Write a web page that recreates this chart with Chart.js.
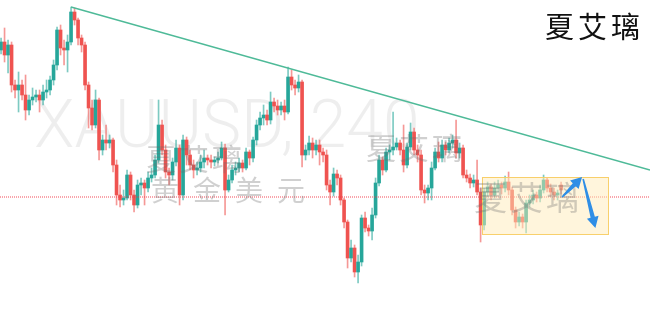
<!DOCTYPE html>
<html>
<head>
<meta charset="utf-8">
<script src="https://cdn.jsdelivr.net/npm/chart.js@4.4.0/dist/chart.umd.min.js"></script>
<style>
	html, body { margin: 0; padding: 0; background: #fff; }
	#wrap { position: relative; width: 650px; height: 309px; }
	#brand {
		position: absolute; right: 6px; top: 5px;
		font-family: "Noto Sans CJK SC", sans-serif; font-size: 29px;
		letter-spacing: 4px; color: #111; line-height: 40px;
	}
</style>
</head>
<body>
<div id="wrap">
	<canvas id="myChart"></canvas>
	<div id="brand">夏艾璃</div>
</div>
<script>
/* XAUUSD 240 K線資料 */
var opens = [
	2050,2058,2045,2055,2015,2010,2015,2005,1990,2000,
	2003,2005,2000,2008,2010,2020,2035,2070,2052,2050,
	2058,2088,2080,2062,2055,2015,1992,1975,2000,1950,
	1960,1957,1960,1935,1905,1900,1902,1925,1905,1895,
	1915,1917,1912,1922,1925,1940,1975,1950,1928,1925,
	1938,1952,1905,1960,1945,1935,1930,1932,1938,1942,
	1940,1938,1940,1942,1952,1910,1920,1930,1932,1937,
	1932,1948,1942,1960,1975,1982,1985,1980,1998,1994,
	1990,1994,1988,2023,2015,2012,2018,1945,1950,1957,
	1950,1955,1948,1945,1915,1908,1926,1922,1900,1878,
	1842,1852,1828,1838,1882,1872,1869,1885,1917,1940,
	1930,1948,1950,1953,1957,1950,1935,1953,1968,1950,
	1945,1910,1907,1912,1932,1948,1942,1955,1950,1957,
	1960,1947,1952,1925,1922,1917,1920,1908,1875,1908,
	1913,1905,1912,1915,1912,1918,1910,1890,1878,1883,
	1878,1897,1900,1905,1902,1910,1920,1912,1908,1905,1915
];
var highs = [
	2062,2072,2060,2058,2020,2028,2020,2025,2005,2012,
	2010,2010,2015,2020,2024,2040,2073,2075,2060,2065,
	2093,2092,2082,2065,2058,2018,2000,2010,2002,1965,
	1975,1965,1962,1940,1915,1910,1930,1928,1910,1920,
	1922,1920,1928,1932,1945,2000,1980,1955,1932,1942,
	1960,1955,1965,1963,1950,1940,1938,1945,1950,1945,
	1945,1943,1948,1958,1956,1925,1935,1938,1942,1940,
	1952,1950,1963,1980,1988,1995,1990,2008,2002,2000,
	1998,2000,2033,2030,2020,2025,2020,1955,1964,1962,
	1960,1960,1952,1950,1920,1932,1930,1925,1902,1880,
	1860,1855,1845,1885,1888,1875,1892,1922,1945,1943,
	1952,1955,1988,1962,1960,1975,1957,1977,1972,1955,
	1950,1915,1915,1938,1952,1958,1960,1958,1962,1965,
	1980,1957,1955,1930,1926,1925,1940,1912,1912,1918,
	1916,1918,1920,1918,1924,1928,1913,1893,1888,1886,
	1900,1905,1910,1908,1915,1925,1922,1916,1912,1910,1918
];
var lows = [
	2046,2038,2027,2008,2002,1988,2000,1980,1985,1995,
	1998,1988,1995,2002,2005,2015,2030,2045,2035,2028,
	2055,2075,2055,2048,2010,1972,1970,1972,1940,1945,
	1950,1952,1928,1895,1893,1895,1900,1900,1888,1892,
	1905,1895,1908,1918,1922,1937,1945,1922,1915,1920,
	1934,1895,1900,1935,1930,1922,1925,1928,1932,1935,
	1932,1934,1937,1940,1885,1908,1917,1925,1928,1928,
	1930,1935,1938,1955,1970,1975,1975,1976,1988,1985,
	1985,1980,1986,2010,2005,2008,1933,1940,1945,1942,
	1945,1935,1938,1910,1895,1904,1915,1895,1872,1832,
	1838,1823,1817,1834,1868,1864,1860,1882,1914,1925,
	1928,1940,1945,1950,1945,1928,1932,1950,1945,1938,
	1905,1897,1900,1900,1930,1938,1938,1945,1947,1952,
	1942,1942,1922,1918,1912,1913,1905,1858,1870,1903,
	1900,1902,1908,1906,1908,1905,1885,1872,1874,1872,
	1867,1893,1896,1898,1898,1907,1908,1904,1900,1900,1906
];
var closes = [
	2058,2045,2055,2015,2010,2015,2005,1990,2000,2003,
	2005,2000,2008,2010,2020,2035,2070,2052,2050,2058,
	2088,2080,2062,2055,2015,1992,1975,2000,1950,1960,
	1957,1960,1935,1905,1900,1902,1925,1905,1895,1915,
	1917,1912,1922,1925,1940,1975,1950,1928,1925,1938,
	1952,1905,1960,1945,1935,1930,1932,1938,1942,1940,
	1938,1940,1942,1952,1910,1920,1930,1932,1937,1932,
	1948,1942,1960,1975,1982,1985,1980,1998,1994,1990,
	1994,1988,2023,2015,2012,2018,1945,1950,1957,1950,
	1955,1948,1945,1915,1908,1926,1922,1900,1878,1842,
	1852,1828,1838,1882,1872,1869,1885,1917,1940,1930,
	1948,1950,1953,1957,1950,1935,1953,1968,1950,1945,
	1910,1907,1912,1932,1948,1942,1955,1950,1957,1960,
	1947,1952,1925,1922,1917,1920,1908,1875,1908,1913,
	1905,1912,1915,1912,1918,1910,1890,1878,1883,1878,
	1897,1900,1905,1902,1910,1920,1912,1908,1905,1907,1910
];

// 壓力趨勢線 / 水平線 / 區間框 / 箭頭
var trendX = [20, 185.4];
var trendY = [2093, 1930];
var levelX = [-0.3, 185.4];
var levelY = [1903, 1903];
var boxX = [137.4, 173.4];
var boxY = [1866, 1923];
var arrowUpX = [160.3, 166.0];
var arrowUpY = [1903, 1923];
var arrowDownX = [166.3, 169.8];
var arrowDownY = [1921, 1872];

var upColor = 'rgb(38, 166, 154)';
var downColor = 'rgb(239, 83, 80)';
var upWick = 'rgba(38, 166, 154, 0.6)';
var downWick = 'rgba(239, 83, 80, 0.6)';

function isUp(i) {
	return closes[i] >= opens[i];
}

var bodyData = [];
var wickData = [];
for (var i = 0; i < opens.length; i++) {
	bodyData.push({ x: i, y: [opens[i], closes[i]] });
	wickData.push({ x: i, y: [lows[i], highs[i]] });
}

function toPts(xs, ys) {
	var pts = [];
	for (var k = 0; k < xs.length; k++) {
		pts.push({ x: xs[k], y: ys[k] });
	}
	return pts;
}

// 畫箭頭 (漸粗的箭身 + 三角箭頭)
function drawArrow(ctx, x1, y1, x2, y2) {
	var ang = Math.atan2(y2 - y1, x2 - x1);
	var len = Math.hypot(x2 - x1, y2 - y1);
	var headLen = 11, headW = 6;
	ctx.save();
	ctx.translate(x1, y1);
	ctx.rotate(ang);
	ctx.fillStyle = '#2f8ee6';
	ctx.beginPath();
	ctx.moveTo(0, -0.8);
	ctx.lineTo(len - headLen, -2.2);
	ctx.lineTo(len - headLen, -headW);
	ctx.lineTo(len, 0);
	ctx.lineTo(len - headLen, headW);
	ctx.lineTo(len - headLen, 2.2);
	ctx.lineTo(0, 0.8);
	ctx.closePath();
	ctx.fill();
	ctx.restore();
}

var bgWatermark = {
	id: 'bgWatermark',
	beforeDatasetsDraw: function(chart) {
		var ctx = chart.ctx;
		var a = chart.chartArea;
		ctx.save();
		ctx.fillStyle = 'rgba(0, 0, 0, 0.065)';
		ctx.font = '300 66px Roboto';
		ctx.textBaseline = 'alphabetic';
		ctx.fillText('XAUUSD, 240', a.left + 34, a.top + 147);
		ctx.restore();
	}
};

var overlay = {
	id: 'overlay',
	afterDatasetsDraw: function(chart) {
		var ctx = chart.ctx;
		var xs = chart.scales.x;
		var ys = chart.scales.y;
		var a = chart.chartArea;
		ctx.save();

		// 區間框
		var bx1 = xs.getPixelForValue(boxX[0]);
		var bx2 = xs.getPixelForValue(boxX[1]);
		var by1 = ys.getPixelForValue(boxY[1]);
		var by2 = ys.getPixelForValue(boxY[0]);
		ctx.fillStyle = 'rgba(255, 236, 185, 0.5)';
		ctx.fillRect(bx1, by1, bx2 - bx1, by2 - by1);
		ctx.strokeStyle = 'rgba(248, 205, 100, 0.95)';
		ctx.lineWidth = 1;
		ctx.strokeRect(bx1 + 0.5, by1 + 0.5, bx2 - bx1, by2 - by1);

		// 浮水印文字
		ctx.fillStyle = 'rgba(110, 110, 110, 0.32)';
		ctx.textBaseline = 'top';
		ctx.font = '30px "Noto Sans CJK SC"';
		ctx.letterSpacing = '3px';
		ctx.fillText('夏艾璃', a.left + 146, a.top + 144);
		ctx.fillText('夏艾璃', a.left + 366, a.top + 133);
		ctx.font = '33px "Noto Sans CJK SC"';
		ctx.fillText('夏艾璃', a.left + 474, a.top + 181);
		ctx.font = '28px "Noto Sans CJK SC"';
		ctx.letterSpacing = '14px';
		ctx.fillText('黄金美元', a.left + 151, a.top + 176);
		ctx.letterSpacing = '0px';

		// 箭頭
		drawArrow(ctx,
			xs.getPixelForValue(arrowUpX[0]), ys.getPixelForValue(arrowUpY[0]),
			xs.getPixelForValue(arrowUpX[1]), ys.getPixelForValue(arrowUpY[1]));
		drawArrow(ctx,
			xs.getPixelForValue(arrowDownX[0]), ys.getPixelForValue(arrowDownY[0]),
			xs.getPixelForValue(arrowDownX[1]), ys.getPixelForValue(arrowDownY[1]));
		ctx.restore();
	}
};

var ctx = document.getElementById('myChart');
var myChart = new Chart(ctx, {
	type: 'bar',
	data: {
		datasets: [{
			type: 'line',
			label: 'trend',
			data: toPts(trendX, trendY),
			borderColor: 'rgb(78, 186, 152)',
			borderWidth: 1.4,
			pointRadius: 0,
			order: 0
		}, {
			type: 'line',
			label: 'level',
			data: toPts(levelX, levelY),
			borderColor: 'rgba(242, 54, 69, 0.9)',
			borderWidth: 1,
			borderDash: [1, 1],
			pointRadius: 0,
			order: 0
		}, {
			label: 'body',
			data: bodyData,
			backgroundColor: function(c) { return isUp(c.dataIndex) ? upColor : downColor; },
			barThickness: 3,
			minBarLength: 1,
			grouped: false,
			order: 1
		}, {
			label: 'wick',
			data: wickData,
			backgroundColor: function(c) { return isUp(c.dataIndex) ? upWick : downWick; },
			barThickness: 1,
			grouped: false,
			order: 2
		}]
	},
	options: {
		responsive: true,
		maintainAspectRatio: false,
		animation: false,
		layout: { padding: 0 },
		plugins: {
			legend: { display: false },
			tooltip: { enabled: false }
		},
		scales: {
			x: { type: 'linear', min: -0.3, max: 185.4, offset: false, display: false },
			y: { min: 1791, max: 2100, display: false }
		}
	},
	plugins: [bgWatermark, overlay]
});
</script>
</body>
</html>
